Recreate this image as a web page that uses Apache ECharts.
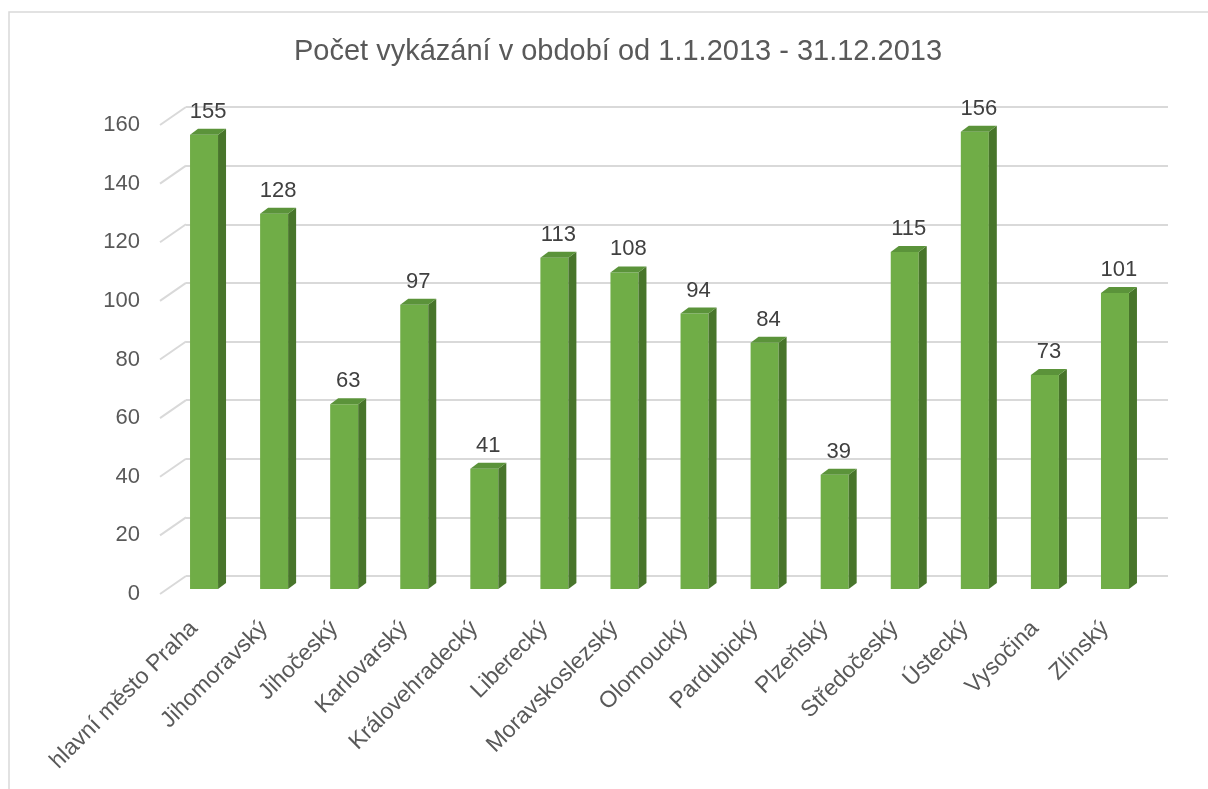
<!DOCTYPE html>
<html>
<head>
<meta charset="utf-8">
<script src="https://cdn.jsdelivr.net/npm/echarts@6/dist/echarts.min.js"></script>
<style>
  html, body { margin: 0; padding: 0; background: #fff; }
  #chart { width: 1208px; height: 789px; }
</style>
</head>
<body>
<div id="chart"></div>
<script>
const categories = ['hlavní město Praha', 'Jihomoravský', 'Jihočeský', 'Karlovarský', 'Královehradecký',
  'Liberecký', 'Moravskoslezský', 'Olomoucký', 'Pardubický', 'Plzeňský', 'Středočeský', 'Ústecký',
  'Vysočina', 'Zlínský']
const counts = [155, 128, 63, 97, 41, 113, 108, 94, 84, 39, 115, 156, 73, 101]
const yTicks = [0, 20, 40, 60, 80, 100, 120, 140, 160]

const FONT = 'Liberation Sans'
const gridColor = '#d9d9d9'
// 3D look: depth of the wall and of each bar
const wallDx = 26, wallDy = 18
const barDx = 8, barDy = 6, barW = 28

const chart = echarts.init(document.getElementById('chart'))

const option = {
  animation: false,
  backgroundColor: '#fff',
  title: {
    text: 'Počet vykázání v období od 1.1.2013 - 31.12.2013',
    left: 613,
    textAlign: 'center',
    top: 32,
    textStyle: { fontFamily: FONT, fontSize: 29, fontWeight: 'normal', color: '#595959' }
  },
  graphic: [{
    type: 'rect',
    shape: { x: 9, y: 12, width: 1300, height: 900 },
    style: { fill: 'none', stroke: gridColor, lineWidth: 1.5 },
    z: -1
  }],
  grid: [
    // back wall (gridlines)
    { left: 186, right: 40, top: 107, bottom: 213 },
    // bars
    { left: 169, right: 58, top: 120, bottom: 200 },
    // front edge (labels + floor edges)
    { left: 160, right: 40, top: 125, bottom: 195 }
  ],
  xAxis: [
    { gridIndex: 0, type: 'value', min: 0, max: 1, show: false },
    {
      gridIndex: 1, type: 'category', data: categories,
      axisLine: { show: false }, axisTick: { show: false },
      axisLabel: {
        interval: 0, rotate: 45, margin: 26, padding: [0, 14, 0, 0],
        fontFamily: FONT, fontSize: 23, color: '#595959'
      }
    },
    { gridIndex: 2, type: 'value', min: 0, max: 1, show: false }
  ],
  yAxis: [
    {
      gridIndex: 0, type: 'value', min: 0, max: 160, interval: 20,
      axisLine: { show: false }, axisTick: { show: false }, axisLabel: { show: false },
      splitLine: { lineStyle: { color: gridColor, width: 2 } }
    },
    {
      gridIndex: 1, type: 'value', min: 0, max: 160, interval: 20, show: false
    },
    {
      gridIndex: 2, type: 'value', min: 0, max: 160, interval: 20,
      axisLine: { show: false }, axisTick: { show: false }, splitLine: { show: false },
      axisLabel: { margin: 20, padding: [6, 0, 0, 0], fontFamily: FONT, fontSize: 22, color: '#595959' }
    }
  ],
  series: [
    {
      // slanted floor edges joining the labels to the back wall
      type: 'custom',
      xAxisIndex: 2,
      yAxisIndex: 2,
      data: yTicks.map(v => [0, v]),
      renderItem: function (params, api) {
        const p = api.coord([0, api.value(1)])
        return {
          type: 'line',
          shape: { x1: p[0], y1: p[1], x2: p[0] + wallDx, y2: p[1] - wallDy },
          style: { stroke: gridColor, lineWidth: 2 }
        }
      },
      silent: true
    },
    {
      type: 'custom',
      xAxisIndex: 1,
      yAxisIndex: 1,
      data: counts.map((v, i) => [i, v]),
      renderItem: function (params, api) {
        const top = api.coord([api.value(0), api.value(1)])
        const base = api.coord([api.value(0), 0])
        const xl = top[0] - barW / 2
        const xr = top[0] + barW / 2
        const yt = top[1]
        const yb = base[1]
        return {
          type: 'group',
          children: [
            {
              type: 'rect',
              shape: { x: xl, y: yt, width: barW, height: yb - yt },
              style: { fill: '#70ad47' }
            },
            {
              type: 'polygon',
              shape: { points: [[xr, yt], [xr + barDx, yt - barDy], [xr + barDx, yb - barDy], [xr, yb]] },
              style: { fill: '#48752b' }
            },
            {
              type: 'polygon',
              shape: { points: [[xl, yt], [xl + barDx, yt - barDy], [xr + barDx, yt - barDy], [xr, yt]] },
              style: { fill: '#5b933a' }
            },
            {
              type: 'text',
              style: {
                text: String(api.value(1)),
                x: top[0] + barDx / 2,
                y: yt - barDy - 6,
                align: 'center',
                verticalAlign: 'bottom',
                fontFamily: FONT,
                fontSize: 22,
                fill: '#404040'
              }
            }
          ]
        }
      }
    }
  ]
}

chart.setOption(option)
</script>
</body>
</html>
